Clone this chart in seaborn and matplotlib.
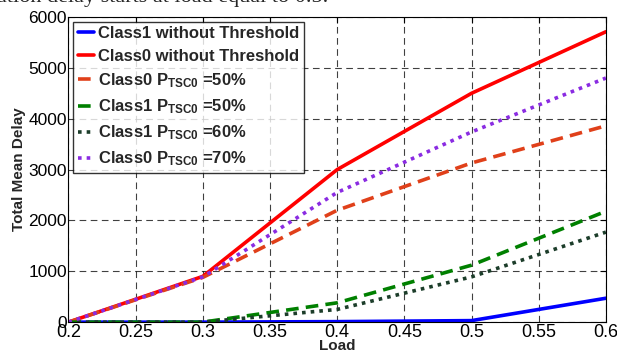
import numpy as np
import pandas as pd
import matplotlib
matplotlib.use("Agg")
import matplotlib.pyplot as plt
import seaborn as sns

sns.set_theme(style="white")
plt.rcParams["font.family"] = ["Liberation Sans", "DejaVu Sans"]
plt.rcParams["mathtext.fontset"] = "custom"
plt.rcParams["mathtext.rm"] = "Liberation Sans:bold"
plt.rcParams["mathtext.bf"] = "Liberation Sans:bold"
plt.rcParams["mathtext.it"] = "Liberation Sans:bold"

# data
load = [0.2, 0.3, 0.4, 0.5, 0.6]
class1_no_thr = [0, 0, 10, 30, 470]
class0_no_thr = [0, 900, 3000, 4500, 5710]
class0_p50 = [0, 880, 2200, 3130, 3860]
class1_p50 = [0, 0, 380, 1120, 2180]
class1_p60 = [0, 0, 250, 890, 1770]
class0_p70 = [0, 890, 2550, 3740, 4800]

series = [
    ("Class1 without Threshold", class1_no_thr, "#0000ff", "-"),
    ("Class0 without Threshold", class0_no_thr, "#ff0000", "-"),
    (r"Class0 P$_{\mathbf{TSC0}}$ =50%", class0_p50, "#e0401a", (0, (3.5, 2))),
    (r"Class1 P$_{\mathbf{TSC0}}$ =50%", class1_p50, "#008000", (0, (3.5, 2))),
    (r"Class1 P$_{\mathbf{TSC0}}$ =60%", class1_p60, "#1c3d2a", (0, (1, 1.4))),
    (r"Class0 P$_{\mathbf{TSC0}}$ =70%", class0_p70, "#8a2be2", (0, (1, 1.4))),
]

fig = plt.figure(figsize=(6.17, 3.54), dpi=100)
ax = fig.add_axes([0.111, 0.090, 0.871, 0.862])

for label, vals, color, ls in series:
    sns.lineplot(x=load, y=vals, ax=ax, color=color, linestyle=ls,
                 linewidth=2.6, label=label)

ax.set_xlim(0.2, 0.6)
ax.set_ylim(0, 6000)
ax.set_xticks([0.2, 0.25, 0.3, 0.35, 0.4, 0.45, 0.5, 0.55, 0.6])
ax.set_xticklabels(["0.2", "0.25", "0.3", "0.35", "0.4", "0.45", "0.5", "0.55", "0.6"])
ax.set_yticks([0, 1000, 2000, 3000, 4000, 5000, 6000])
ax.tick_params(axis="x", labelsize=13, pad=1)
ax.tick_params(axis="y", labelsize=12.5, pad=1)
ax.tick_params(direction="in", length=4, width=0.8, colors="black",
               top=True, right=True)
ax.grid(True, color="black", linestyle=(0, (6, 4)), linewidth=0.8, alpha=0.75)
for sp in ax.spines.values():
    sp.set_color("black")
    sp.set_linewidth(0.8)

ax.set_xlabel("Load", fontsize=11, fontweight="bold", labelpad=-1)
ax.set_ylabel("Total Mean Delay", fontsize=11, fontweight="bold", labelpad=2)

leg = ax.legend(loc="upper left", bbox_to_anchor=(0.0, 1.0),
                prop={"weight": "bold", "size": 12}, frameon=True, fancybox=False,
                edgecolor="black", handlelength=1.0, handletextpad=0.25,
                labelspacing=0.45, borderpad=0.25, borderaxespad=0.3)
leg.get_frame().set_linewidth(1.0)

# cropped line of page text above the figure
fig.text(-0.005, 1.035, "ation delay starts at load equal to 0.5.",
         family=["Liberation Serif"], fontsize=16, va="top", ha="left")

fig.savefig("out.png", dpi=100)
